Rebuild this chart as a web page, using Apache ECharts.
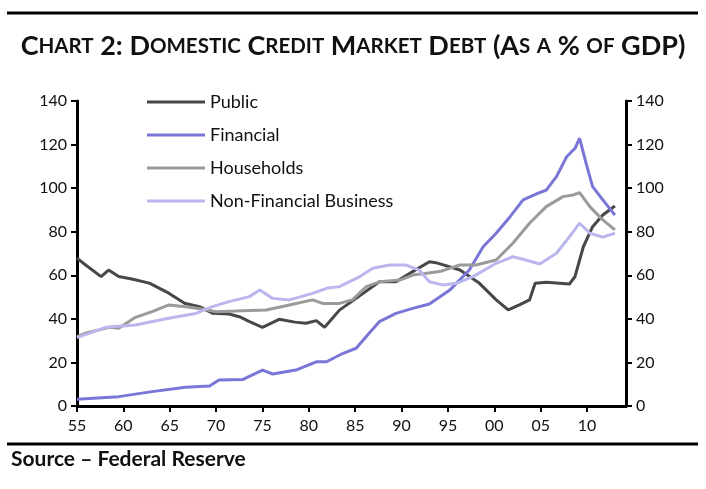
<!DOCTYPE html>
<html>
<head>
<meta charset="utf-8">
<script src="https://cdn.jsdelivr.net/npm/echarts@6/dist/echarts.min.js"></script>
<style>
  html, body { margin: 0; padding: 0; background: #fff; }
  #main { width: 706px; height: 489px; }
</style>
</head>
<body>
<div id="main"></div>
<script>
  // data: [year, % of GDP]
  var seriesNames = ['Public', 'Financial', 'Households', 'Non-Financial Business'];
  var seriesColors = ['#474747', '#7a76d8', '#9a9a9a', '#bab6ee'];

  var publicDebt = [
    [1955, 67.9], [1956, 64.5], [1957.6, 59.4], [1958.4, 62.4], [1959.5, 59.4], [1960.9, 58.3],
    [1962.8, 56.4], [1964.9, 51.8], [1966.6, 47.2], [1968.2, 45.6], [1969.6, 42.6], [1971.4, 42.2],
    [1972.5, 41], [1973.6, 38.7], [1975, 36.1], [1976.8, 39.8], [1978.5, 38.5], [1979.7, 38],
    [1980.8, 39.2], [1981.7, 36.1], [1983.3, 44], [1985.1, 49.4], [1987.6, 57], [1989.4, 57],
    [1991.2, 61.7], [1993, 66.2], [1993.7, 65.8], [1996.3, 62.4], [1998.4, 56.3], [2000.2, 48.7],
    [2001.5, 44.1], [2002.7, 46.4], [2003.8, 48.7], [2004.4, 56.3], [2005.6, 56.8], [2008.1, 56],
    [2008.7, 59.4], [2009.6, 73.1], [2010.6, 82.3], [2011.7, 87.7], [2013, 91.8]
  ];
  var financialDebt = [
    [1955, 3.1], [1959.5, 4.3], [1963.1, 6.6], [1966.7, 8.6], [1969.3, 9.2], [1970.3, 11.9],
    [1972.9, 12.2], [1975, 16.5], [1976.1, 14.7], [1978.6, 16.5], [1980.8, 20.3], [1981.9, 20.3],
    [1983.7, 24.2], [1985.1, 26.5], [1986.5, 33.4], [1987.6, 38.7], [1989.4, 42.5], [1991.2, 44.8],
    [1993, 46.8], [1995.2, 53.2], [1997.3, 62.4], [1998.8, 73.1], [2000.2, 79.3], [2001.7, 86.9],
    [2003.1, 94.6], [2004.5, 97.3], [2005.6, 99.1], [2006.7, 105.3], [2007.8, 114.4], [2008.7, 118.3],
    [2009.2, 122.9], [2009.9, 111.4], [2010.6, 100.7], [2011.7, 94.6], [2013, 87.7]
  ];
  var householdDebt = [
    [1955, 31.8], [1956, 33.5], [1958.5, 36.1], [1959.5, 35.7], [1961.3, 40.7], [1963.1, 43.3],
    [1964.9, 46.4], [1966.7, 45.6], [1968.5, 44.5], [1970, 43.3], [1972.1, 43.6], [1975.4, 44.1],
    [1977.9, 46.4], [1980.4, 48.7], [1981.5, 47.1], [1983.3, 47.1], [1984.7, 48.7], [1986.2, 54.8],
    [1987.6, 57], [1989.8, 57.8], [1991.2, 60.1], [1992.7, 60.9], [1994.1, 61.7], [1996.3, 64.7],
    [1998, 64.7], [2000.2, 67], [2002, 74.7], [2003.8, 83.9], [2005.6, 91.5], [2007.4, 96.1],
    [2008.5, 96.9], [2009.2, 97.9], [2010.3, 91.5], [2011.7, 85.4], [2013, 80.8]
  ];
  var businessDebt = [
    [1955, 31.4], [1958.1, 36.1], [1961.3, 37.2], [1964.9, 40.3], [1967.8, 42.5], [1969.6, 45.6],
    [1971.4, 47.9], [1973.6, 50.2], [1974.7, 53.2], [1976.1, 49.4], [1977.9, 48.7], [1980.4, 51.7],
    [1981.9, 54], [1983.3, 54.8], [1985.5, 59.4], [1986.9, 63.2], [1988.7, 64.7], [1990.5, 64.7],
    [1991.9, 62.4], [1993, 57], [1994.5, 55.5], [1995.9, 56.3], [1997.7, 59.4], [2000.2, 65.5],
    [2002, 68.5], [2003.4, 67], [2004.9, 65.2], [2006.7, 70.1], [2008.1, 77.7], [2009.2, 83.9],
    [2010.3, 79.3], [2011.7, 77.5], [2013, 79.3]
  ];
  var allData = [publicDebt, financialDebt, householdDebt, businessDebt];

  var titleText = 'Chart 2: Domestic Credit Market Debt (As a % of GDP)';
  var sourceText = 'Source \u2013 Federal Reserve';

  var FONT = 'Lato, "Open Sans", sans-serif';

  // build fake small caps with rich text
  function smallCaps(str) {
    var parts = [], cur = '', curSmall = null;
    for (var i = 0; i < str.length; i++) {
      var ch = str[i];
      var small = ch >= 'a' && ch <= 'z';
      if (curSmall !== null && small !== curSmall) {
        parts.push('{' + (curSmall ? 's' : 'b') + '|' + cur + '}');
        cur = '';
      }
      cur += small ? ch.toUpperCase() : ch;
      curSmall = small;
    }
    if (cur) parts.push('{' + (curSmall ? 's' : 'b') + '|' + cur + '}');
    return parts.join('');
  }

  var myChart = echarts.init(document.getElementById('main'), null, { renderer: 'canvas' });

  var series = [];
  for (var i = 0; i < seriesNames.length; i++) {
    series.push({
      name: seriesNames[i],
      type: 'line',
      data: allData[i],
      showSymbol: false,
      lineStyle: { width: 3, color: seriesColors[i] },
      itemStyle: { color: seriesColors[i] },
      animation: false
    });
  }

  var yAxisBase = {
    type: 'value',
    min: 0,
    max: 140,
    interval: 20,
    axisLine: { show: true, lineStyle: { color: '#000', width: 3 } },
    axisTick: { show: true, length: 6, lineStyle: { color: '#000', width: 2 } },
    axisLabel: { color: '#111', fontSize: 16, fontFamily: FONT, margin: 10 },
    splitLine: { show: false }
  };

  var option = {
    backgroundColor: '#fff',
    animation: false,
    title: {
      text: smallCaps(titleText),
      left: 'center',
      top: 28,
      textStyle: {
        rich: {
          b: { fontSize: 27, fontWeight: 'bold', fontFamily: FONT, color: '#111' },
          s: { fontSize: 20.5, fontWeight: 'bold', fontFamily: FONT, color: '#111' }
        }
      }
    },
    legend: {
      orient: 'vertical',
      left: 142,
      top: 88,
      itemWidth: 58,
      itemHeight: 3,
      itemGap: 15,
      icon: 'rect',
      data: seriesNames,
      textStyle: { fontSize: 18, fontFamily: FONT, color: '#111' }
    },
    grid: { left: 77, right: 80, top: 101, bottom: 83, containLabel: false },
    xAxis: {
      type: 'value',
      min: 1955,
      max: 2014.2,
      interval: 5,
      axisLine: { show: true, lineStyle: { color: '#000', width: 3 } },
      axisTick: { show: true, length: 6, lineStyle: { color: '#000', width: 2 } },
      axisLabel: {
        color: '#111', fontSize: 16, fontFamily: FONT, margin: 12,
        showMaxLabel: false,
        formatter: function (v) {
          if (Math.abs(v % 5) > 0.001) return '';
          var yy = Math.round(v) % 100;
          return (yy < 10 ? '0' : '') + yy;
        }
      },
      splitLine: { show: false }
    },
    yAxis: [
      Object.assign({}, yAxisBase, { position: 'left' }),
      Object.assign({}, yAxisBase, { position: 'right' })
    ],
    graphic: [
      { type: 'line', shape: { x1: 7, y1: 13, x2: 698, y2: 13 }, style: { stroke: '#000', lineWidth: 3 } },
      { type: 'line', shape: { x1: 7, y1: 444, x2: 698, y2: 444 }, style: { stroke: '#000', lineWidth: 3 } },
      {
        type: 'text', left: 11, top: 449,
        style: { text: sourceText, font: 'bold 21px ' + FONT, fill: '#111' }
      }
    ],
    series: series
  };

  myChart.setOption(option);
</script>
</body>
</html>
